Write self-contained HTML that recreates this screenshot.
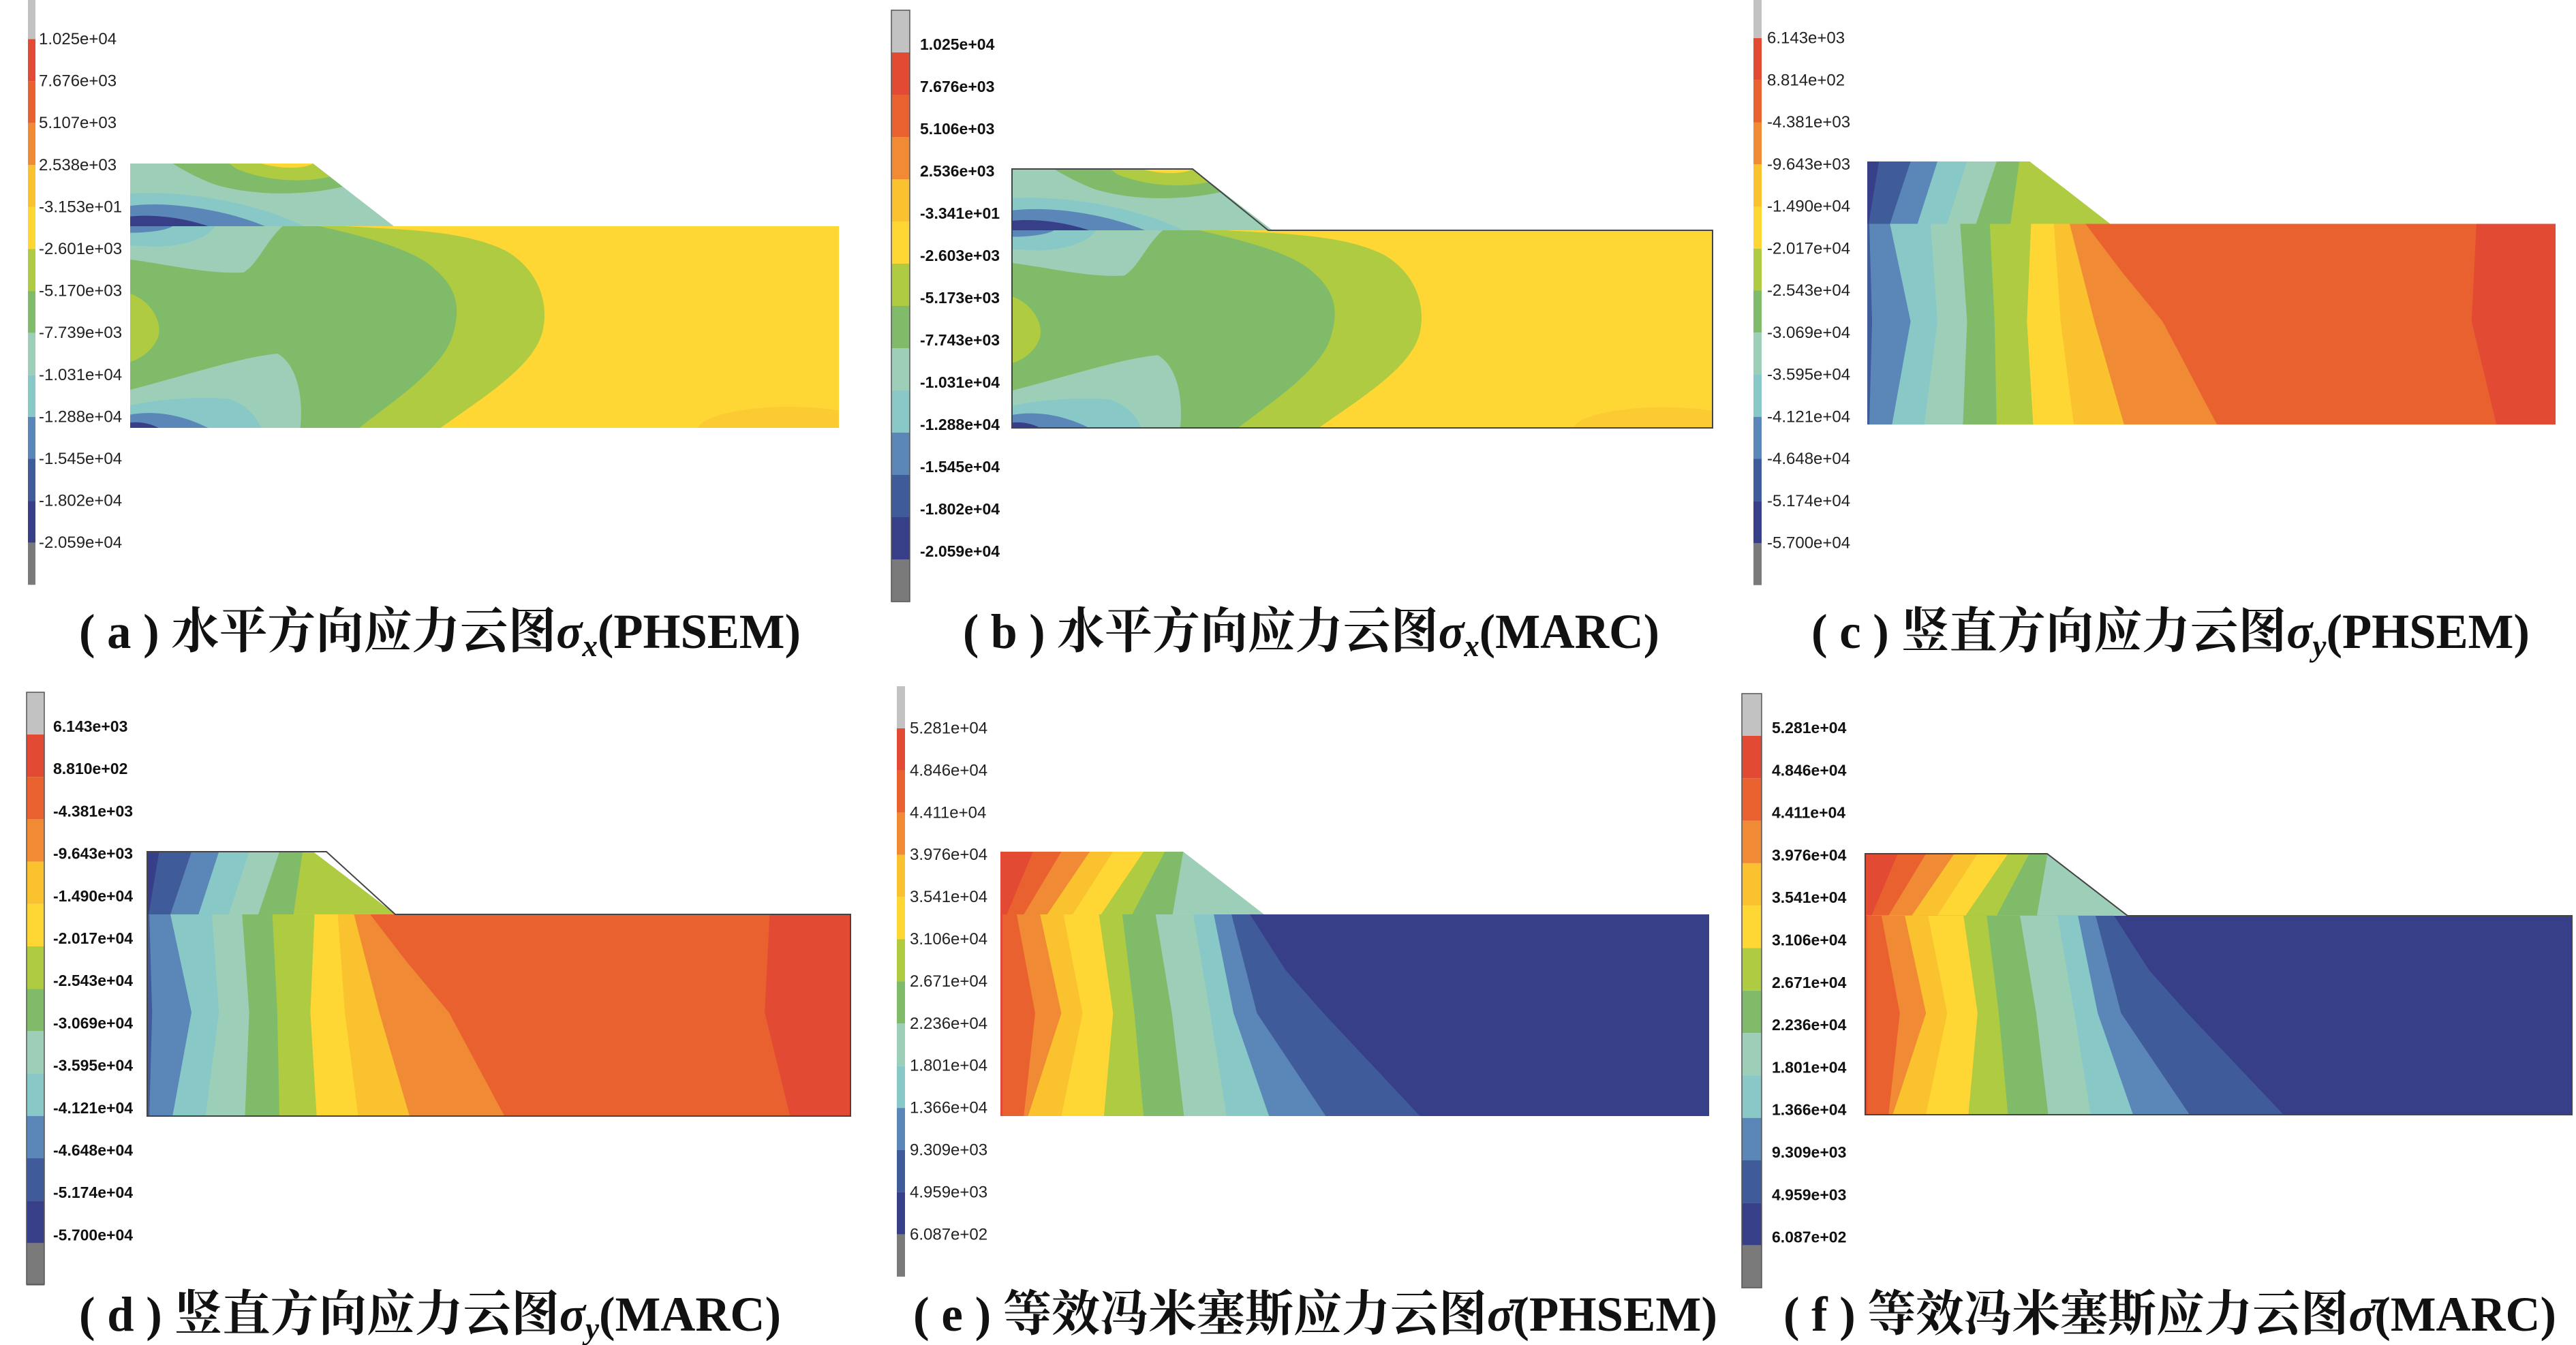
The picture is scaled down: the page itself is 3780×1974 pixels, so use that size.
<!DOCTYPE html>
<html><head><meta charset="utf-8"><style>
html,body{margin:0;padding:0;background:#fff;}
svg{display:block;}
.ln{font-family:"Liberation Sans",sans-serif;font-size:24px;fill:#222;dominant-baseline:central;}
.lb{font-family:"Liberation Sans",sans-serif;font-size:23px;font-weight:bold;fill:#111;dominant-baseline:central;}
.cap{font-family:"Liberation Serif","Noto Serif CJK SC",serif;font-size:72px;font-weight:bold;fill:#111;}
</style></head><body>
<svg width="3780" height="1974" viewBox="0 0 3780 1974" xmlns="http://www.w3.org/2000/svg">
<defs>
<g id="cb">
<rect x="0" y="-1" width="1" height="1" fill="#c2c2c2"/>
<rect x="0" y="0" width="1" height="1" fill="#e34a33"/>
<rect x="0" y="1" width="1" height="1" fill="#ea6130"/>
<rect x="0" y="2" width="1" height="1" fill="#f08a35"/>
<rect x="0" y="3" width="1" height="1" fill="#fbc230"/>
<rect x="0" y="4" width="1" height="1" fill="#fed735"/>
<rect x="0" y="5" width="1" height="1" fill="#aecb42"/>
<rect x="0" y="6" width="1" height="1" fill="#80bb6a"/>
<rect x="0" y="7" width="1" height="1" fill="#9dcfb8"/>
<rect x="0" y="8" width="1" height="1" fill="#88c9c8"/>
<rect x="0" y="9" width="1" height="1" fill="#5b87b8"/>
<rect x="0" y="10" width="1" height="1" fill="#3f5b9a"/>
<rect x="0" y="11" width="1" height="1" fill="#363f88"/>
<rect x="0" y="12" width="1" height="1" fill="#7a7a7a"/>
</g>
<clipPath id="embA"><path d="M0,0 L258,0 L372,237 L0,237 Z"/></clipPath>
<clipPath id="embC"><path d="M0,0 L236,0 L353,237 L0,237 Z"/></clipPath>
<clipPath id="low"><rect x="0" y="237" width="1000" height="763"/></clipPath>

<g id="sx">
<g clip-path="url(#low)">
<rect x="0" y="237" width="1000" height="763" fill="#fed735"/>
<ellipse cx="930" cy="1010" rx="130" ry="90" fill="#fcca33"/>
<path d="M0,237 L303,237 C380,250 470,250 530,330 C575,400 590,520 583,620 C575,760 500,880 438,1000 L0,1000 Z" fill="#aecb42"/>
<path d="M0,237 L267,237 C320,270 400,320 430,400 C465,480 465,560 455,650 C440,780 370,900 323,1000 L0,1000 Z" fill="#80bb6a"/>
<path d="M0,237 L215,237 C190,300 180,380 160,412 C110,420 50,380 0,363 Z" fill="#9dcfb8"/>
<path d="M0,237 L120,237 C110,280 80,310 40,315 L0,310 Z" fill="#88c9c8"/>
<path d="M0,237 L60,237 C50,255 20,262 0,262 Z" fill="#5b87b8"/>
<path d="M0,492 C30,520 45,600 40,650 C35,700 15,740 0,750 Z" fill="#aecb42"/>
<path d="M0,856 C80,800 160,730 208,719 C235,760 245,880 240,1000 L0,1000 Z" fill="#9dcfb8"/>
<path d="M0,915 C40,890 100,880 140,890 C170,920 180,970 185,1000 L0,1000 Z" fill="#88c9c8"/>
<path d="M0,950 C30,935 70,945 110,1000 L0,1000 Z" fill="#5b87b8"/>
<path d="M0,980 C15,975 30,985 40,1000 L0,1000 Z" fill="#363f88"/>
</g>
<g clip-path="url(#embA)">
<rect x="0" y="0" width="400" height="237" fill="#9dcfb8"/>
<path d="M60,0 L258,0 L300,88 C240,125 170,120 120,80 C95,55 75,25 60,0 Z" fill="#80bb6a"/>
<path d="M140,0 L258,0 L282,50 C240,75 190,65 150,20 Z" fill="#aecb42"/>
<path d="M185,0 L258,0 C245,22 210,20 185,0 Z" fill="#fed735"/>
<path d="M0,113 C80,100 180,150 245,237 L0,237 Z" fill="#88c9c8"/>
<path d="M0,160 C60,140 140,180 190,237 L0,237 Z" fill="#5b87b8"/>
<path d="M0,200 C40,190 80,210 110,237 L0,237 Z" fill="#363f88"/>
</g>
</g>

<g id="sy">
<g clip-path="url(#low)">
<rect x="0" y="237" width="1000" height="763" fill="#e34a33"/>
<path d="M0,237 L885,237 L878,608 L914,1000 L0,1000 Z" fill="#ea6130"/>
<path d="M0,237 L317,237 L370,420 L429,608 L508,1000 L0,1000 Z" fill="#f08a35"/>
<path d="M0,237 L294,237 L330,608 L373,1000 L0,1000 Z" fill="#fbc230"/>
<path d="M0,237 L271,237 L281,608 L300,1000 L0,1000 Z" fill="#fed735"/>
<path d="M0,237 L238,237 L232,608 L241,1000 L0,1000 Z" fill="#aecb42"/>
<path d="M0,237 L178,237 L185,608 L188,1000 L0,1000 Z" fill="#80bb6a"/>
<path d="M0,237 L135,237 L145,608 L139,1000 L0,1000 Z" fill="#9dcfb8"/>
<path d="M0,237 L92,237 L102,608 L83,1000 L0,1000 Z" fill="#88c9c8"/>
<path d="M0,237 L33,237 L63,608 L36,1000 L0,1000 Z" fill="#5b87b8"/>
<path d="M0,237 L3,237 L7,608 L3,1000 L0,1000 Z" fill="#3f5b9a"/>
</g>
<g clip-path="url(#embC)">
<rect x="0" y="0" width="400" height="237" fill="#aecb42"/>
<path d="M0,0 L221,0 L208,237 L0,237 Z" fill="#80bb6a"/>
<path d="M0,0 L188,0 L158,237 L0,237 Z" fill="#9dcfb8"/>
<path d="M0,0 L145,0 L116,237 L0,237 Z" fill="#88c9c8"/>
<path d="M0,0 L102,0 L73,237 L0,237 Z" fill="#5b87b8"/>
<path d="M0,0 L63,0 L33,237 L0,237 Z" fill="#3f5b9a"/>
<path d="M0,0 L17,0 L2,237 L0,237 Z" fill="#363f88"/>
</g>
</g>

<g id="vm">
<g clip-path="url(#low)">
<rect x="0" y="237" width="1000" height="763" fill="#363f88"/>
<path d="M0,237 L352,237 L402,447 L456,611 L592,1000 L0,1000 Z" fill="#3f5b9a"/>
<path d="M0,237 L326,237 L362,611 L459,1000 L0,1000 Z" fill="#5b87b8"/>
<path d="M0,237 L301,237 L329,611 L379,1000 L0,1000 Z" fill="#88c9c8"/>
<path d="M0,237 L272,237 L296,611 L319,1000 L0,1000 Z" fill="#9dcfb8"/>
<path d="M0,237 L219,237 L242,611 L259,1000 L0,1000 Z" fill="#80bb6a"/>
<path d="M0,237 L172,237 L189,611 L202,1000 L0,1000 Z" fill="#aecb42"/>
<path d="M0,237 L139,237 L159,611 L146,1000 L0,1000 Z" fill="#fed735"/>
<path d="M0,237 L89,237 L116,611 L86,1000 L0,1000 Z" fill="#fbc230"/>
<path d="M0,237 L56,237 L86,611 L39,1000 L0,1000 Z" fill="#f08a35"/>
<path d="M0,237 L23,237 L49,611 L33,1000 L0,1000 Z" fill="#ea6130"/>
<path d="M0,237 L3,237 L3,1000 L0,1000 Z" fill="#e34a33"/>
</g>
<g clip-path="url(#embA)">
<rect x="0" y="0" width="400" height="237" fill="#9dcfb8"/>
<path d="M0,0 L258,0 L243,237 L0,237 Z" fill="#80bb6a"/>
<path d="M0,0 L232,0 L186,237 L0,237 Z" fill="#aecb42"/>
<path d="M0,0 L202,0 L142,237 L0,237 Z" fill="#fed735"/>
<path d="M0,0 L159,0 L102,237 L0,237 Z" fill="#fbc230"/>
<path d="M0,0 L126,0 L66,237 L0,237 Z" fill="#f08a35"/>
<path d="M0,0 L86,0 L33,237 L0,237 Z" fill="#ea6130"/>
<path d="M0,0 L46,0 L9,237 L0,237 Z" fill="#e34a33"/>
</g>
</g>
</defs>

<use href="#cb" transform="translate(41,57.5) scale(11,61.6)"/>
<g class="ln">
<text x="57" y="57.5">1.025e+04</text><text x="57" y="119.1">7.676e+03</text><text x="57" y="180.7">5.107e+03</text><text x="57" y="242.3">2.538e+03</text><text x="57" y="303.9">-3.153e+01</text><text x="57" y="365.5">-2.601e+03</text><text x="57" y="427.1">-5.170e+03</text><text x="57" y="488.7">-7.739e+03</text><text x="57" y="550.3">-1.031e+04</text><text x="57" y="611.9">-1.288e+04</text><text x="57" y="673.5">-1.545e+04</text><text x="57" y="735.1">-1.802e+04</text><text x="57" y="796.7">-2.059e+04</text>
</g>
<use href="#sx" transform="translate(191,240) scale(1.04,0.388)"/>

<use href="#cb" transform="translate(1308,77) scale(27,62)"/>
<rect x="1308" y="15" width="27" height="868" fill="none" stroke="#555" stroke-width="1.5"/>
<g class="lb">
<text x="1350" y="65">1.025e+04</text><text x="1350" y="127">7.676e+03</text><text x="1350" y="189">5.106e+03</text><text x="1350" y="251">2.536e+03</text><text x="1350" y="313">-3.341e+01</text><text x="1350" y="375">-2.603e+03</text><text x="1350" y="437">-5.173e+03</text><text x="1350" y="499">-7.743e+03</text><text x="1350" y="561">-1.031e+04</text><text x="1350" y="623">-1.288e+04</text><text x="1350" y="685">-1.545e+04</text><text x="1350" y="747">-1.802e+04</text><text x="1350" y="809">-2.059e+04</text>
</g>
<use href="#sx" transform="translate(1485,248) scale(1.028,0.38)"/>
<path d="M1485,248 L1750,248 L1861,338 L2513,338 L2513,628 L1485,628 Z" fill="none" stroke="#444" stroke-width="2"/>

<use href="#cb" transform="translate(2573,56) scale(12,61.75)"/>
<g class="ln">
<text x="2593" y="56">6.143e+03</text><text x="2593" y="117.75">8.814e+02</text><text x="2593" y="179.5">-4.381e+03</text><text x="2593" y="241.25">-9.643e+03</text><text x="2593" y="303">-1.490e+04</text><text x="2593" y="364.75">-2.017e+04</text><text x="2593" y="426.5">-2.543e+04</text><text x="2593" y="488.25">-3.069e+04</text><text x="2593" y="550">-3.595e+04</text><text x="2593" y="611.75">-4.121e+04</text><text x="2593" y="673.5">-4.648e+04</text><text x="2593" y="735.25">-5.174e+04</text><text x="2593" y="797">-5.700e+04</text>
</g>
<use href="#sy" transform="translate(2740,237) scale(1.01,0.386)"/>

<use href="#cb" transform="translate(39,1078) scale(26,62.2)"/>
<rect x="39" y="1016" width="26" height="869" fill="none" stroke="#555" stroke-width="1.5"/>
<g class="lb">
<text x="78" y="1066">6.143e+03</text><text x="78" y="1128.2">8.810e+02</text><text x="78" y="1190.4">-4.381e+03</text><text x="78" y="1252.6">-9.643e+03</text><text x="78" y="1314.8">-1.490e+04</text><text x="78" y="1377">-2.017e+04</text><text x="78" y="1439.2">-2.543e+04</text><text x="78" y="1501.4">-3.069e+04</text><text x="78" y="1563.6">-3.595e+04</text><text x="78" y="1625.8">-4.121e+04</text><text x="78" y="1688">-4.648e+04</text><text x="78" y="1750.2">-5.174e+04</text><text x="78" y="1812.4">-5.700e+04</text>
</g>
<use href="#sy" transform="translate(216,1250) scale(1.032,0.388)"/>
<path d="M216,1250 L479,1250 L580,1342 L1248,1342 L1248,1638 L216,1638 Z" fill="none" stroke="#444" stroke-width="2"/>

<use href="#cb" transform="translate(1316,1069) scale(12,61.9)"/>
<g class="ln">
<text x="1335" y="1069">5.281e+04</text><text x="1335" y="1130.9">4.846e+04</text><text x="1335" y="1192.8">4.411e+04</text><text x="1335" y="1254.7">3.976e+04</text><text x="1335" y="1316.6">3.541e+04</text><text x="1335" y="1378.5">3.106e+04</text><text x="1335" y="1440.4">2.671e+04</text><text x="1335" y="1502.3">2.236e+04</text><text x="1335" y="1564.2">1.801e+04</text><text x="1335" y="1626.1">1.366e+04</text><text x="1335" y="1688">9.309e+03</text><text x="1335" y="1749.9">4.959e+03</text><text x="1335" y="1811.8">6.087e+02</text>
</g>
<use href="#vm" transform="translate(1468,1250) scale(1.04,0.388)"/>

<use href="#cb" transform="translate(2556,1080) scale(29,62.3)"/>
<rect x="2556" y="1018" width="29" height="872" fill="none" stroke="#555" stroke-width="1.5"/>
<g class="lb">
<text x="2600" y="1068">5.281e+04</text><text x="2600" y="1130.3">4.846e+04</text><text x="2600" y="1192.6">4.411e+04</text><text x="2600" y="1254.9">3.976e+04</text><text x="2600" y="1317.2">3.541e+04</text><text x="2600" y="1379.5">3.106e+04</text><text x="2600" y="1441.8">2.671e+04</text><text x="2600" y="1504.1">2.236e+04</text><text x="2600" y="1566.4">1.801e+04</text><text x="2600" y="1628.7">1.366e+04</text><text x="2600" y="1691">9.309e+03</text><text x="2600" y="1753.3">4.959e+03</text><text x="2600" y="1815.6">6.087e+02</text>
</g>
<use href="#vm" transform="translate(2737,1253) scale(1.037,0.383)"/>
<path d="M2737,1253 L3004,1253 L3122,1344 L3774,1344 L3774,1636 L2737,1636 Z" fill="none" stroke="#444" stroke-width="2"/>

<text class="cap" x="116" y="951" textLength="1059" lengthAdjust="spacingAndGlyphs">( a ) 水平方向应力云图<tspan font-style="italic">σ</tspan><tspan font-size="46" font-style="italic" dy="12">x</tspan><tspan dy="-12">(PHSEM)</tspan></text>
<text class="cap" x="1413" y="951" textLength="1022" lengthAdjust="spacingAndGlyphs">( b ) 水平方向应力云图<tspan font-style="italic">σ</tspan><tspan font-size="46" font-style="italic" dy="12">x</tspan><tspan dy="-12">(MARC)</tspan></text>
<text class="cap" x="2658" y="951" textLength="1054" lengthAdjust="spacingAndGlyphs">( c ) 竖直方向应力云图<tspan font-style="italic">σ</tspan><tspan font-size="46" font-style="italic" dy="12">y</tspan><tspan dy="-12">(PHSEM)</tspan></text>
<text class="cap" x="116" y="1953" textLength="1030" lengthAdjust="spacingAndGlyphs">( d ) 竖直方向应力云图<tspan font-style="italic">σ</tspan><tspan font-size="46" font-style="italic" dy="12">y</tspan><tspan dy="-12">(MARC)</tspan></text>
<text class="cap" x="1340" y="1953" textLength="1180" lengthAdjust="spacingAndGlyphs">( e ) 等效冯米塞斯应力云图<tspan font-style="italic">σ̄</tspan>(PHSEM)</text>
<text class="cap" x="2617" y="1953" textLength="1134" lengthAdjust="spacingAndGlyphs">( f ) 等效冯米塞斯应力云图<tspan font-style="italic">σ̄</tspan>(MARC)</text>
</svg>
</body></html>
